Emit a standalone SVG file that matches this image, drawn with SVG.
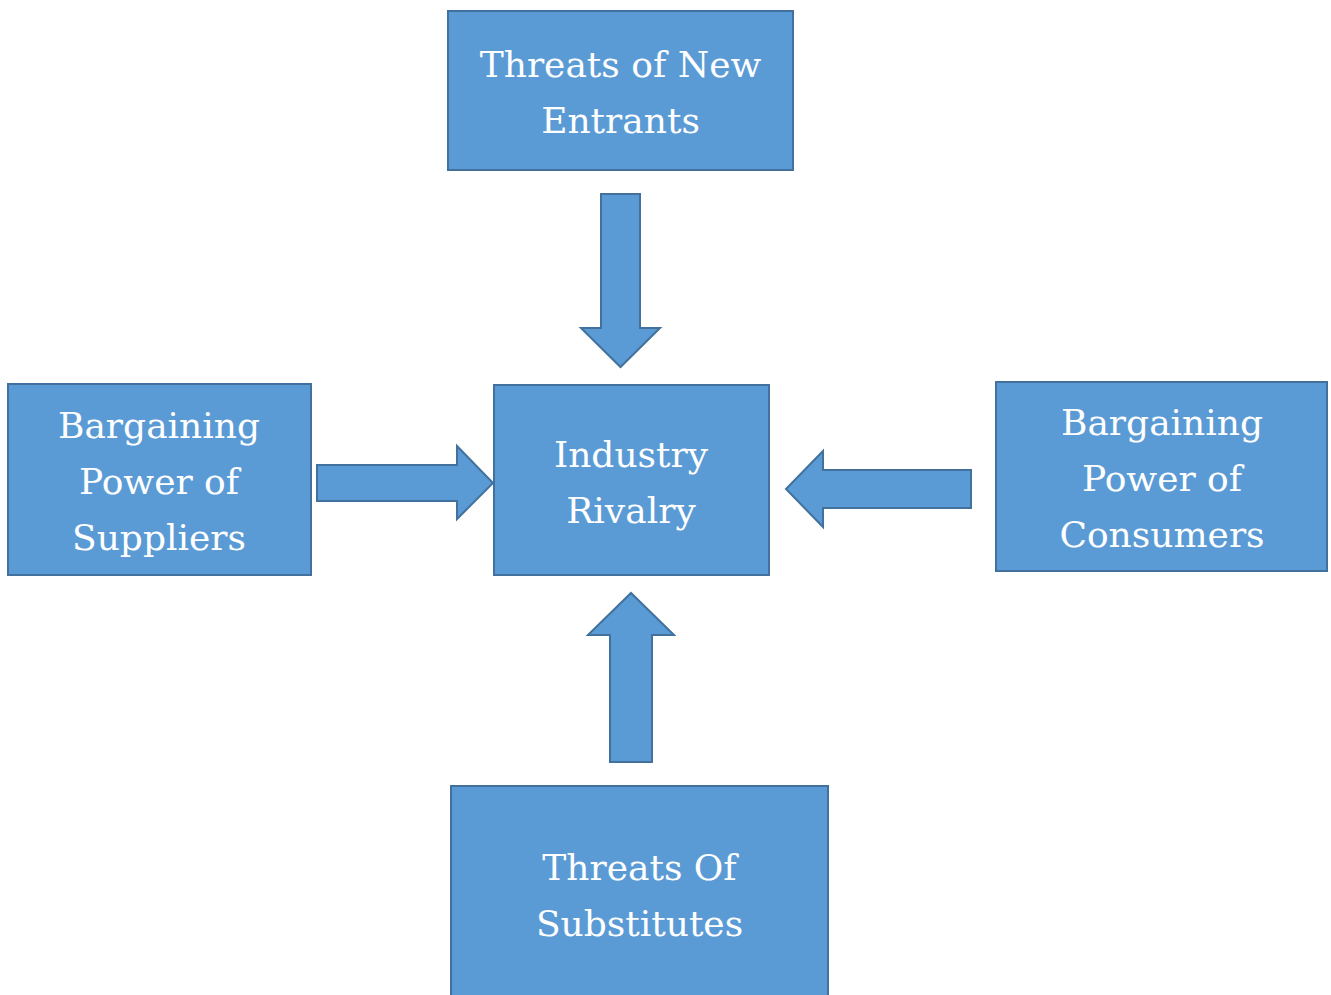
<svg xmlns="http://www.w3.org/2000/svg" width="1331" height="995" viewBox="0 0 1331 995">
  <style>
    .box { fill: #5B9BD5; stroke: #41719C; stroke-width: 2; }
    .arrow { fill: #5B9BD5; stroke: #41719C; stroke-width: 2; stroke-linejoin: miter; }
    .label { font-family: "DejaVu Serif", serif; font-size: 36px; fill: #ffffff; text-anchor: middle; }
  </style>
  <rect width="1331" height="995" fill="#ffffff"/>

  <g id="new-entrants">
    <rect class="box" x="448" y="11" width="345" height="159"/>
    <text class="label" x="620.5" y="77">Threats of New</text>
    <text class="label" x="620.5" y="133">Entrants</text>
  </g>

  <g id="industry-rivalry">
    <rect class="box" x="494" y="385" width="275" height="190"/>
    <text class="label" x="631" y="467">Industry</text>
    <text class="label" x="631" y="523">Rivalry</text>
  </g>

  <g id="suppliers">
    <rect class="box" x="8" y="384" width="303" height="191"/>
    <text class="label" x="159" y="438">Bargaining</text>
    <text class="label" x="159" y="494">Power of</text>
    <text class="label" x="159" y="550">Suppliers</text>
  </g>

  <g id="consumers">
    <rect class="box" x="996" y="382" width="331" height="189"/>
    <text class="label" x="1162" y="435">Bargaining</text>
    <text class="label" x="1162" y="491">Power of</text>
    <text class="label" x="1162" y="547">Consumers</text>
  </g>

  <g id="substitutes">
    <rect class="box" x="451" y="786" width="377" height="215"/>
    <text class="label" x="639.5" y="880">Threats Of</text>
    <text class="label" x="639.5" y="936">Substitutes</text>
  </g>

  <g id="connectors">
    <!-- down from new entrants -->
    <polygon class="arrow" points="601,194 640,194 640,328 660,328 620.5,367 581,328 601,328"/>
    <!-- right from suppliers -->
    <polygon class="arrow" points="317,465 457,465 457,446 493,483 457,519 457,501 317,501"/>
    <!-- left from consumers -->
    <polygon class="arrow" points="971,470 823,470 823,451 786,489 823,527 823,508 971,508"/>
    <!-- up from substitutes -->
    <polygon class="arrow" points="610,762 610,635 588,635 631,593 674,635 652,635 652,762"/>
  </g>
</svg>
